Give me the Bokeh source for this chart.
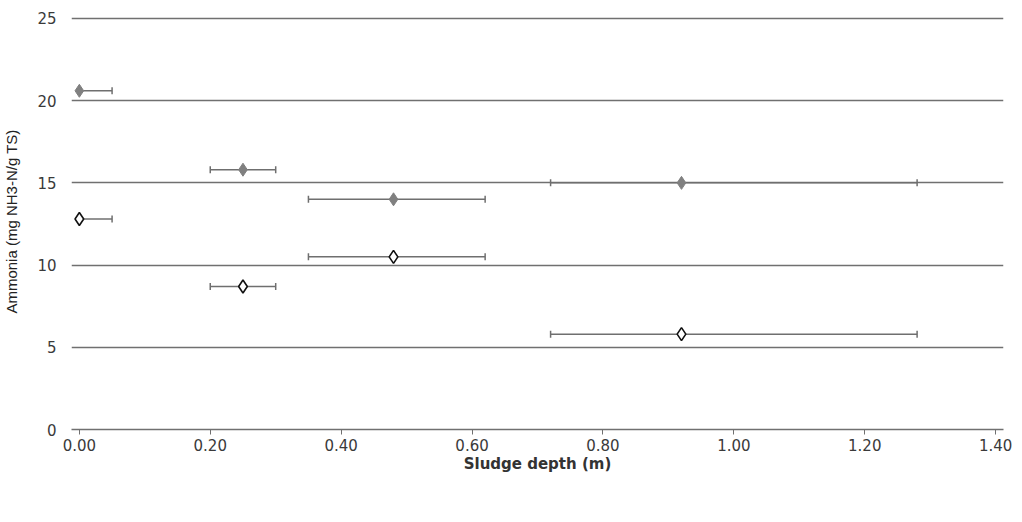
from bokeh.plotting import figure
from bokeh.models import (ColumnDataSource, Whisker, TeeHead, FixedTicker,
                          PrintfTickFormatter, Legend, LegendItem, Range1d)
from bokeh.embed import file_html
from bokeh.resources import INLINE

# Data
front_depth = [0.00, 0.25, 0.48, 0.92]
front_ammonia = [20.6, 15.8, 14.0, 15.0]
front_lo = [0.00, 0.20, 0.35, 0.72]
front_hi = [0.05, 0.30, 0.62, 1.28]

back_depth = [0.00, 0.25, 0.48, 0.92]
back_ammonia = [12.8, 8.7, 10.5, 5.8]
back_lo = [0.00, 0.20, 0.35, 0.72]
back_hi = [0.05, 0.30, 0.62, 1.28]

x_ticks = [0.0, 0.2, 0.4, 0.6, 0.8, 1.0, 1.2, 1.4]
y_ticks = [0, 5, 10, 15, 20, 25]

FONT = "DejaVu Sans"
YFONT = "Liberation Sans"
GRID = "#707070"

p = figure(frame_width=932, frame_height=416, output_backend="svg",
           toolbar_location=None,
           x_range=Range1d(-0.012, 1.412), y_range=Range1d(0, 25.3),
           min_border_left=71, min_border_right=13, min_border_top=13,
           min_border_bottom=0)
p.outline_line_color = None
p.background_fill_color = "white"
p.border_fill_color = "white"

# Grid
p.xgrid.grid_line_color = None
p.ygrid.ticker = FixedTicker(ticks=y_ticks)
p.ygrid.grid_line_color = GRID
p.ygrid.grid_line_width = 1.5

# Axes
p.xaxis.ticker = FixedTicker(ticks=x_ticks)
p.xaxis.formatter = PrintfTickFormatter(format="%.2f")
p.xaxis.axis_line_color = GRID
p.xaxis.axis_line_width = 1.5
p.xaxis.major_tick_line_color = GRID
p.xaxis.major_tick_in = 0
p.xaxis.major_tick_out = 5
p.xaxis.minor_tick_line_color = None
p.xaxis.major_label_text_font = FONT
p.xaxis.major_label_text_font_size = "15px"
p.xaxis.major_label_text_color = "#3a3a3a"
p.xaxis.major_label_standoff = 4
p.xaxis.axis_label = "Sludge depth (m)"
p.xaxis.axis_label_text_font = FONT
p.xaxis.axis_label_text_font_style = "bold"
p.xaxis.axis_label_text_font_size = "15px"
p.xaxis.axis_label_text_color = "#333333"
p.xaxis.axis_label_standoff = 1

p.yaxis.ticker = FixedTicker(ticks=y_ticks)
p.yaxis.axis_line_color = None
p.yaxis.major_tick_line_color = None
p.yaxis.minor_tick_line_color = None
p.yaxis.major_label_text_font = FONT
p.yaxis.major_label_text_font_size = "15px"
p.yaxis.major_label_text_color = "#3a3a3a"
p.yaxis.major_label_standoff = 9
p.yaxis.axis_label = "Ammonia (mg NH3-N/g TS)"
p.yaxis.axis_label_text_font = YFONT
p.yaxis.axis_label_text_font_style = "normal"
p.yaxis.axis_label_text_font_size = "15px"
p.yaxis.axis_label_text_color = "#222222"
p.yaxis.axis_label_standoff = 14

fsrc = ColumnDataSource(dict(x=front_depth, y=front_ammonia, lo=front_lo, hi=front_hi))
bsrc = ColumnDataSource(dict(x=back_depth, y=back_ammonia, lo=back_lo, hi=back_hi))

ERR = "#6f6f6f"
for src in (fsrc, bsrc):
    w = Whisker(source=src, base="y", lower="lo", upper="hi", dimension="width",
                line_color=ERR, line_width=1.5,
                upper_head=TeeHead(size=7, line_color=ERR, line_width=1.5),
                lower_head=TeeHead(size=7, line_color=ERR, line_width=1.5))
    p.add_layout(w)

fr = p.scatter("x", "y", source=fsrc, marker="diamond", size=13,
               fill_color="#808080", line_color="#808080", line_width=1)
br = p.scatter("x", "y", source=bsrc, marker="diamond", size=13,
               fill_color="white", line_color="#111111", line_width=1.6)

legend = Legend(items=[LegendItem(label="Front section", renderers=[fr]),
                       LegendItem(label="Back section", renderers=[br])],
                orientation="horizontal", location=(306, 0),
                label_text_font=FONT, label_text_font_size="15px",
                label_text_color="#333333", glyph_width=10, glyph_height=10,
                label_height=15, spacing=26, label_standoff=5, padding=0,
                margin=0, border_line_color=None, background_fill_alpha=0)
p.add_layout(legend, "below")

open("out.html", "w").write(file_html(p, INLINE))
